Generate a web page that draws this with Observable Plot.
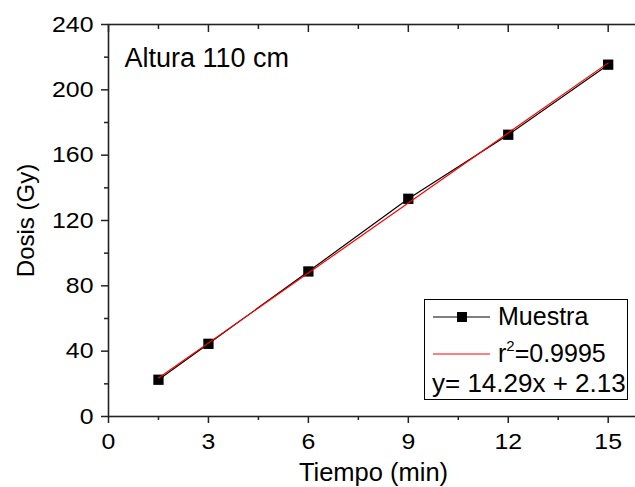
<!DOCTYPE html>
<html><head><meta charset="utf-8">
<script src="https://cdn.jsdelivr.net/npm/d3@7"></script>
<script src="https://cdn.jsdelivr.net/npm/@observablehq/plot@0.6"></script>
<style>
body{margin:0;background:#fff;font-family:"Liberation Sans",Arial,sans-serif;}
#wrap{position:relative;width:635px;height:487px;overflow:hidden;background:#fff;}
#wrap svg{max-width:none;}
#legend{position:absolute;left:424px;top:299px;width:204px;height:101px;border:1px solid #000;box-sizing:border-box;background:#fff;font-size:25px;color:#000;}
#legend .row{position:absolute;line-height:25px;white-space:nowrap;}
#legend svg{position:absolute;}
</style></head><body><div id="wrap"></div>
<script>
// Data
const tiempo = [1.5, 3, 6, 9, 12, 15];
const dosis = [22.5, 44.5, 88.8, 133.3, 172.5, 215.4];
const fitX = [1.5, 15];
const fitY = [23.6, 216.5];
const xMajor = [0, 3, 6, 9, 12, 15];
const xMinor = [1.5, 4.5, 7.5, 10.5, 13.5];
const yMajor = [0, 40, 80, 120, 160, 200, 240];
const yMinor = [20, 60, 100, 140, 180, 220];
const xLabel = "Tiempo (min)";
const yLabel = "Dosis (Gy)";
const note = "Altura 110 cm";
const seriesName = "Muestra";
const r2Text = "0.9995";
const eqText = "y= 14.29x + 2.13";

const data = tiempo.map((t, i) => ({t, d: dosis[i]}));
const fit = fitX.map((t, i) => ({t, d: fitY[i]}));
const ax = {stroke: "#222", strokeWidth: 1.5, label: null};
const noText = () => "";

const chart = Plot.plot({
  width: 645, height: 487,
  marginLeft: 108, marginRight: 4, marginTop: 24, marginBottom: 71,
  style: {fontFamily: "'Liberation Sans', Arial, sans-serif", fontSize: "22px", color: "#000", background: "#fff"},
  x: {domain: [0, 16]},
  y: {domain: [0, 240]},
  marks: [
    Plot.axisX({...ax, ticks: xMajor, anchor: "bottom", tickSize: 7, tickPadding: 10, fontSize: 22, fill: "#000"}),
    Plot.axisX({...ax, ticks: xMinor, anchor: "bottom", tickSize: 4, tickFormat: noText}),
    Plot.axisX({...ax, ticks: xMajor, anchor: "top", tickSize: -7, tickFormat: noText}),
    Plot.axisX({...ax, ticks: xMinor, anchor: "top", tickSize: -4, tickFormat: noText}),
    Plot.axisY({...ax, ticks: yMajor, anchor: "left", tickSize: 7, tickPadding: 8, fontSize: 22, fill: "#000"}),
    Plot.axisY({...ax, ticks: yMinor, anchor: "left", tickSize: 4, tickFormat: noText}),
    Plot.axisY({...ax, ticks: yMajor, anchor: "right", tickSize: -7, tickFormat: noText}),
    Plot.axisY({...ax, ticks: yMinor, anchor: "right", tickSize: -4, tickFormat: noText}),
    Plot.frame({stroke: "#222", strokeWidth: 1.6}),
    Plot.line(data, {x: "t", y: "d", stroke: "#000", strokeWidth: 1.2}),
    Plot.dot(data, {x: "t", y: "d", symbol: "square", r: 5.8, fill: "#000", stroke: null}),
    Plot.line(fit, {x: "t", y: "d", stroke: "#ff0000", strokeWidth: 1.2}),
    Plot.text([note], {frameAnchor: "top-left", dx: 16, dy: 23, lineAnchor: "top", textAnchor: "start", fontSize: 27, fill: "#000"}),
    Plot.text([xLabel], {frameAnchor: "bottom", dx: -1.5, dy: 56, lineAnchor: "middle", textAnchor: "middle", fontSize: 25.5, fill: "#000"}),
    Plot.text([yLabel], {frameAnchor: "left", dx: -81.7, rotate: -90, lineAnchor: "middle", textAnchor: "middle", fontSize: 24, fill: "#000"})
  ]
});
const wrap = document.getElementById("wrap");
wrap.appendChild(chart);

// The reference's tick numerals are slightly wide: stretch them horizontally about their anchor
chart.querySelectorAll('g[aria-label="x-axis tick label"] text, g[aria-label="y-axis tick label"] text').forEach(t => {
  const tr = t.getAttribute("transform") || "";
  t.setAttribute("transform", tr + " scale(1.13,1)");
});

// Legend
const lg = document.createElement("div");
lg.id = "legend";
lg.innerHTML = `
<svg width="70" height="80" style="left:0;top:0">
  <line x1="8" x2="65" y1="17" y2="17" stroke="#000" stroke-width="1.2"/>
  <rect x="32" y="12" width="10" height="10" fill="#000"/>
  <line x1="8" x2="65" y1="54" y2="54" stroke="#ff0000" stroke-width="1.2"/>
</svg>
<div class="row" style="left:73px;top:4px">${seriesName}</div>
<div class="row" style="left:73px;top:41px">r<span style="font-size:15px;position:relative;top:-11px">2</span>=${r2Text}</div>
<div class="row" style="left:7px;top:71px;font-size:26px">${eqText}</div>`;
wrap.appendChild(lg);
</script>
</body></html>
